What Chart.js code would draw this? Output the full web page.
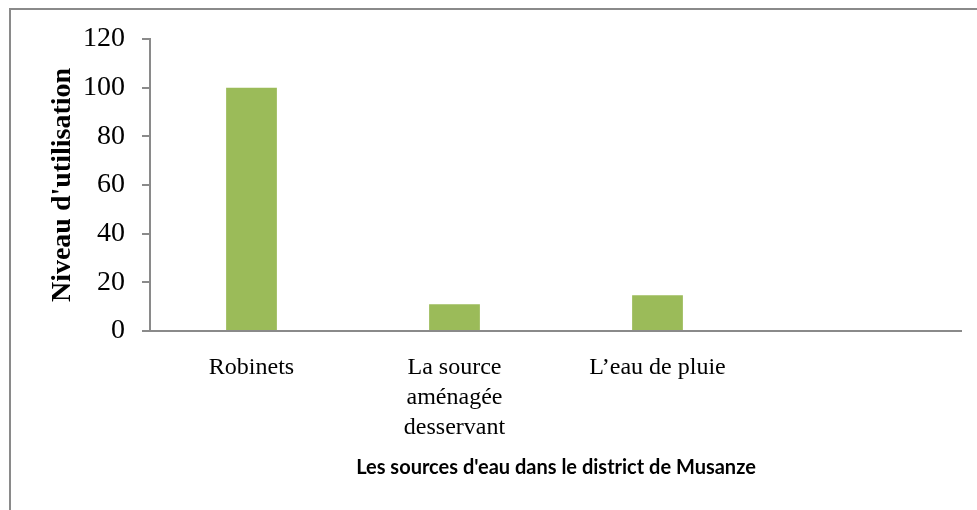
<!DOCTYPE html>
<html>
<head>
<meta charset="utf-8">
<script src="https://cdn.jsdelivr.net/npm/chart.js@4.4.0/dist/chart.umd.min.js"></script>
<style>
  html, body { margin: 0; padding: 0; background: #fff; overflow: hidden; }
  #page { width: 977px; height: 510px; position: relative; }
  /* grey frame: right and bottom edges fall outside the picture */
  #frame {
    position: absolute; left: 9px; top: 8px; width: 1000px; height: 600px;
    border-left: 2px solid #8a8a8a; border-top: 2px solid #8a8a8a;
  }
  #wrap { position: absolute; left: 0; top: 0; width: 962px; height: 510px; }
</style>
</head>
<body>
<div id="page">
  <div id="frame"></div>
  <div id="wrap"><canvas id="chart"></canvas></div>
</div>
<script>
// ---- data ----
const categories = ["Robinets", ["La source", "aménagée", "desservant"], "L\u2019eau de pluie", ""];
const usage = [100, 11, 14.7, null];
const yTicks = [0, 20, 40, 60, 80, 100, 120];

const xTitle = "Les sources d'eau dans le district de Musanze";
const yTitle = "Niveau d'utilisation";

const axisGrey = "#8a8a8a";

var data = {
  labels: categories,
  datasets: [{
    label: "Niveau",
    backgroundColor: "#9BBB59",
    borderWidth: 0,
    data: usage,
    barPercentage: 0.5,
    categoryPercentage: 0.5
  }]
};

var options = {
  responsive: true,
  maintainAspectRatio: false,
  animation: false,
  layout: {
    padding: { left: 12, top: 39, right: 0, bottom: 0 }
  },
  plugins: {
    legend: { display: false },
    tooltip: { enabled: false }
  },
  scales: {
    x: {
      grid: { display: false },
      border: { display: false },
      ticks: {
        color: "#000",
        padding: 14,
        maxRotation: 0,
        autoSkip: false,
        font: { family: "'Liberation Serif', serif", size: 24, lineHeight: 1.25 }
      },
      title: {
        display: true,
        text: xTitle,
        color: "#000",
        padding: { top: 0, bottom: 30 },
        font: { family: "Lato, 'Open Sans', sans-serif", size: 20, weight: "bold" }
      },
      afterFit(scale) { scale.height = 510 - 331; }
    },
    y: {
      min: 0,
      max: 120,
      afterBuildTicks(scale) { scale.ticks = yTicks.map(v => ({ value: v })); },
      grid: {
        drawOnChartArea: true,
        drawTicks: true,
        tickLength: 8,
        // only the zero line crosses the plot, like the category axis
        color: ctx => (ctx.tick && ctx.tick.value === 0 ? axisGrey : "rgba(0,0,0,0)"),
        tickColor: axisGrey,
        lineWidth: 2
      },
      border: { color: axisGrey, width: 2 },
      ticks: {
        color: "#000",
        padding: 17,
        font: { family: "'Liberation Serif', serif", size: 28 }
      },
      title: {
        display: true,
        text: yTitle,
        color: "#000",
        padding: { top: 34, bottom: 0 },
        font: { family: "'Liberation Serif', serif", size: 28, weight: "bold" }
      },
      afterFit(scale) { scale.width = 150 - 12; }
    }
  }
};

new Chart("chart", {
  type: "bar",
  data: data,
  options: options
});
</script>
</body>
</html>
